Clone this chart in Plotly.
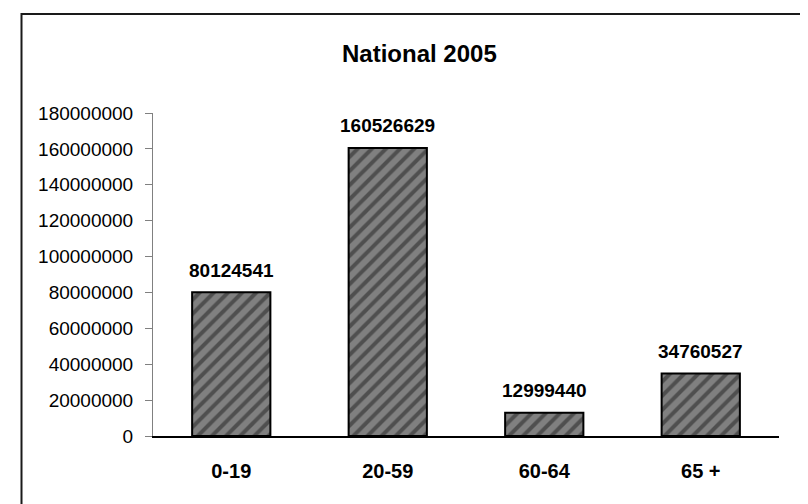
import plotly.graph_objects as go

categories = ["0-19", "20-59", "60-64", "65 +"]
population = [80124541, 160526629, 12999440, 34760527]
y_ticks = [0, 20000000, 40000000, 60000000, 80000000, 100000000,
           120000000, 140000000, 160000000, 180000000]
title_text = "National 2005"

W, H = 808, 504
ML, MR, MT, MB = 145, 37, 105, 76
PW, PH = W - ML - MR, H - MT - MB

def px_x(px):
    return (px - ML) / PW

def px_y(py):
    return (H - MB - py) / PH

FONT = "Arial, Liberation Sans, sans-serif"

fig = go.Figure()
fig.add_trace(go.Bar(
    x=categories,
    y=population,
    marker=dict(
        color="#808080",
        line=dict(color="#000000", width=2),
        pattern=dict(shape="/", fgcolor="#1e1e1e", bgcolor="#808080",
                     size=10, solidity=0.4, fillmode="overlay"),
    ),
    hoverinfo="x+y",
))

annotations = []
for c, v in zip(categories, population):
    annotations.append(dict(
        x=c, y=v, xref="x", yref="y", text=f"<b>{v}</b>", showarrow=False,
        yanchor="middle", yshift=22,
        font=dict(family=FONT, size=19, color="#000000"),
    ))
annotations.append(dict(
    x=px_x(411.5), y=px_y(46), xref="paper", yref="paper",
    text=f"<b>{title_text}</b>", showarrow=False,
    xanchor="center", yanchor="middle",
    font=dict(family=FONT, size=24, color="#000000"),
))

fig.update_layout(
    width=W, height=H,
    margin=dict(l=ML, r=MR, t=MT, b=MB, pad=0),
    paper_bgcolor="#ffffff",
    plot_bgcolor="#ffffff",
    bargap=0.5,
    showlegend=False,
    font=dict(family=FONT, color="#000000"),
    annotations=annotations,
    shapes=[dict(
        type="rect", xref="paper", yref="paper",
        x0=px_x(13.5), x1=px_x(W + 10), y0=px_y(H + 10), y1=px_y(6),
        line=dict(color="#1a1a1a", width=2), fillcolor="rgba(0,0,0,0)",
        layer="below",
    )],
    xaxis=dict(
        showgrid=False, zeroline=False,
        showline=True, linecolor="#000000", linewidth=1.5,
        ticks="", ticklabelstandoff=16,
        tickfont=dict(family=FONT, size=20, color="#000000", weight="bold"),
    ),
    yaxis=dict(
        range=[0, 180000000],
        tickvals=y_ticks, ticktext=[str(t) for t in y_ticks],
        showgrid=False, zeroline=False,
        showline=True, linecolor="#808080", linewidth=1,
        ticks="outside", ticklen=7, tickcolor="#808080", tickwidth=1,
        ticklabelstandoff=8,
        tickfont=dict(family=FONT, size=19, color="#000000"),
    ),
)

fig.write_html("out.html")
